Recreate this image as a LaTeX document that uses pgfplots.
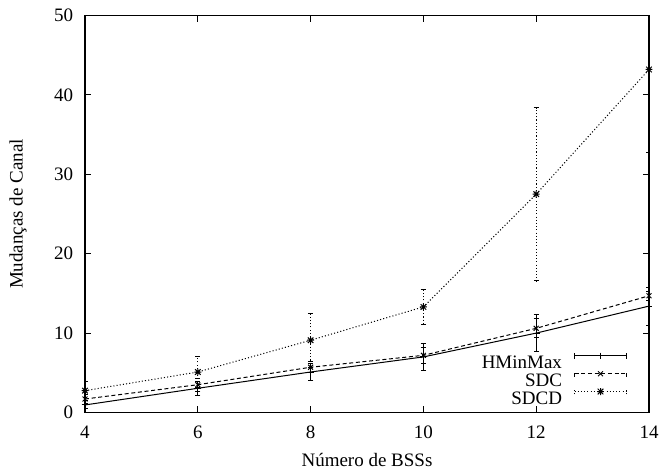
\documentclass[border=0pt]{standalone}
\usepackage{fontspec}
\setmainfont{Liberation Serif}
\usepackage{pgfplots}
\usepackage{pgfplotstable}
\pgfplotsset{compat=1.18}

\pgfdeclareplotmark{gpstar}{%
  \pgfpathmoveto{\pgfqpoint{-\pgfplotmarksize}{0pt}}%
  \pgfpathlineto{\pgfqpoint{\pgfplotmarksize}{0pt}}%
  \pgfpathmoveto{\pgfqpoint{0pt}{-\pgfplotmarksize}}%
  \pgfpathlineto{\pgfqpoint{0pt}{\pgfplotmarksize}}%
  \pgfpathmoveto{\pgfqpoint{-0.8\pgfplotmarksize}{-0.8\pgfplotmarksize}}%
  \pgfpathlineto{\pgfqpoint{0.8\pgfplotmarksize}{0.8\pgfplotmarksize}}%
  \pgfpathmoveto{\pgfqpoint{-0.8\pgfplotmarksize}{0.8\pgfplotmarksize}}%
  \pgfpathlineto{\pgfqpoint{0.8\pgfplotmarksize}{-0.8\pgfplotmarksize}}%
  \pgfusepathqstroke}

\pgfplotstableread{
x y e
4 0.95 0.5
6 3.05 0.9
8 5.1 1.1
10 7.0 1.7
12 10.0 2.3
14 13.4 2.4
}\hminmax
\pgfplotstableread{
x y e
4 1.7 0.6
6 3.5 0.8
8 5.7 0.7
10 7.2 1.0
12 10.6 1.2
14 14.7 0.6
}\sdc
\pgfplotstableread{
x y e
4 2.75 1.2
6 5.1 1.9
8 9.1 3.4
10 13.3 2.2
12 27.5 10.9
14 43.2 10.5
}\sdcd

\begin{document}
\fontsize{14.25}{17}\selectfont
\begin{tikzpicture}
\begin{axis}[
  at={(0,0)}, anchor=south west,
  scale only axis, width=423pt, height=297.75pt,
  xmin=4, xmax=14, ymin=0, ymax=50,
  xtick={4,6,...,14}, ytick={0,10,...,50},
  tick align=inside, tick pos=both, major tick length=4.5pt,
  /pgf/number format/assume math mode=true,
  axis line style={line width=0.9pt},
  every tick/.style={line width=0.75pt, black},
  xlabel={Número de BSSs}, ylabel={Mudanças de Canal},
  xlabel style={at={(axis description cs:0.5,-0.1196)}, anchor=center},
  ylabel style={at={(axis description cs:-0.1188,0.5)}, anchor=center},
  xticklabel style={yshift=-5pt},
  yticklabel style={xshift=-4pt},
  legend style={draw=none, fill=none, at={(axis description cs:0.961,0.0214)}, anchor=south east,
    inner sep=0pt, outer sep=0pt, row sep=1.4pt, column sep=9pt,
    nodes={inner sep=0pt, text height=9.5pt, text depth=0pt}},
  legend cell align=right, legend plot pos=right,
  legend image code/.code={
    \begin{scope}[yshift=4.6pt]
    \draw[#1] (0pt,0pt) -- (39pt,0pt);
    \draw[#1] (0pt,-2.2pt) -- (0pt,2.2pt) (39pt,-2.2pt) -- (39pt,2.2pt);
    \draw[#1] plot coordinates {(19.5pt,0pt)};
    \end{scope}
  },
]
\addplot[black, line width=0.75pt, solid, mark=+, mark options={solid, mark size=2.6pt},
  error bars/.cd, y dir=both, y explicit,
  error bar style={line width=0.75pt, solid},
  error mark options={rotate=90, mark size=2pt, solid, line width=0.75pt}]
  table[x=x, y=y, y error=e] {\hminmax};
\addlegendentry{HMinMax}
\addplot[black, line width=0.75pt, dash pattern=on 3pt off 2pt, mark=x, mark options={solid, mark size=2.6pt},
  error bars/.cd, y dir=both, y explicit,
  error bar style={line width=0.75pt, dash pattern=on 3pt off 2pt},
  error mark options={rotate=90, mark size=2pt, solid, line width=0.75pt}]
  table[x=x, y=y, y error=e] {\sdc};
\addlegendentry{SDC}
\addplot[black, line width=0.75pt, dash pattern=on 0.8pt off 1.6pt, mark=gpstar, mark options={solid, mark size=2.6pt},
  error bars/.cd, y dir=both, y explicit,
  error bar style={line width=0.75pt, dash pattern=on 0.8pt off 1.6pt},
  error mark options={rotate=90, mark size=2pt, solid, line width=0.75pt}]
  table[x=x, y=y, y error=e] {\sdcd};
\addlegendentry{SDCD}
\end{axis}
\pgfresetboundingbox
\useasboundingbox (-63.75pt,-43.875pt) rectangle (432pt,309.375pt);
\end{tikzpicture}
\end{document}
